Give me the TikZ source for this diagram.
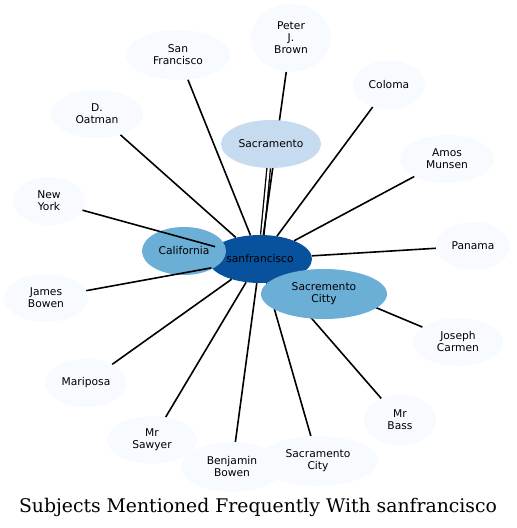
\documentclass[tikz,border=0pt]{standalone}
\usepackage{fontspec}
\setmainfont{DejaVu Serif}
\newfontfamily\subjfont{DejaVu Sans}
\usetikzlibrary{shapes.geometric}
\definecolor{sfDark}{HTML}{08519C}
\definecolor{sfMid}{HTML}{6BAED6}
\definecolor{sfLight}{HTML}{C6DBEF}
\definecolor{sfPale}{HTML}{F7FBFF}
\pgfdeclarelayer{front}
\pgfsetlayers{main,front}

\begin{document}
\begin{tikzpicture}[x=1pt,y=-1pt,
    subj/.style={ellipse,inner sep=0pt,align=center,fill=sfPale,
      font=\subjfont\fontsize{10.7}{12}\selectfont},
    link/.style={draw=black,line width=1.6pt}]
  \path[use as bounding box] (0,0) rectangle (517,528);
  % centre and the nodes lying over it
  \node[subj,fill=sfDark,minimum width=104pt,minimum height=48pt] (sf) at (260,259) {sanfrancisco};
  \node[subj,fill=sfMid,minimum width=84pt,minimum height=48pt] (california) at (184,251) {California};
  \begin{pgfonlayer}{front}
    \node[subj,fill=sfMid,minimum width=126pt,minimum height=50pt] (citty) at (324,294) {Sacremento\\Citty};
    \node[subj,fill=sfLight,minimum width=100pt,minimum height=48pt] (sacramento) at (271,144) {Sacramento};
  \end{pgfonlayer}
  % outer ring
  \node[subj,minimum width=80pt,minimum height=68pt] (brown) at (291,38) {Peter\\J.\\Brown};
  \node[subj,minimum width=104pt,minimum height=50pt] (sanfran) at (178,55) {San\\Francisco};
  \node[subj,minimum width=72pt,minimum height=49pt] (coloma) at (389,85) {Coloma};
  \node[subj,minimum width=92pt,minimum height=48pt] (oatman) at (97,114) {D.\\Oatman};
  \node[subj,minimum width=94pt,minimum height=48pt] (munsen) at (447,159) {Amos\\Munsen};
  \node[subj,minimum width=72pt,minimum height=48pt] (newyork) at (49,201) {New\\York};
  \node[subj,minimum width=74pt,minimum height=48pt] (panama) at (473,246) {Panama};
  \node[subj,minimum width=84pt,minimum height=48pt] (jbowen) at (46,298) {James\\Bowen};
  \node[subj,minimum width=90pt,minimum height=48pt] (carmen) at (458,342) {Joseph\\Carmen};
  \node[subj,minimum width=82pt,minimum height=48pt] (mariposa) at (86,383) {Mariposa};
  \node[subj,minimum width=72pt,minimum height=50pt] (bass) at (400,420) {Mr\\Bass};
  \node[subj,minimum width=90pt,minimum height=48pt] (sawyer) at (152,440) {Mr\\Sawyer};
  \node[subj,minimum width=102pt,minimum height=50pt] (bbowen) at (232,467) {Benjamin\\Bowen};
  \node[subj,minimum width=120pt,minimum height=50pt] (sacity) at (318,461) {Sacramento\\City};
  % edges
  \draw[link,line width=1.3pt,double distance=2.2pt] (sf) -- (sacramento);
  \foreach \n in {brown,sanfran,coloma,oatman,munsen,newyork,panama,
                  jbowen,carmen,mariposa,bass,sawyer,bbowen,sacity}
    \draw[link] (sf) -- (\n);
  \node[font=\fontsize{18.8}{22}\selectfont] (title) at (258,507) {Subjects Mentioned Frequently With sanfrancisco};
\end{tikzpicture}
\end{document}
